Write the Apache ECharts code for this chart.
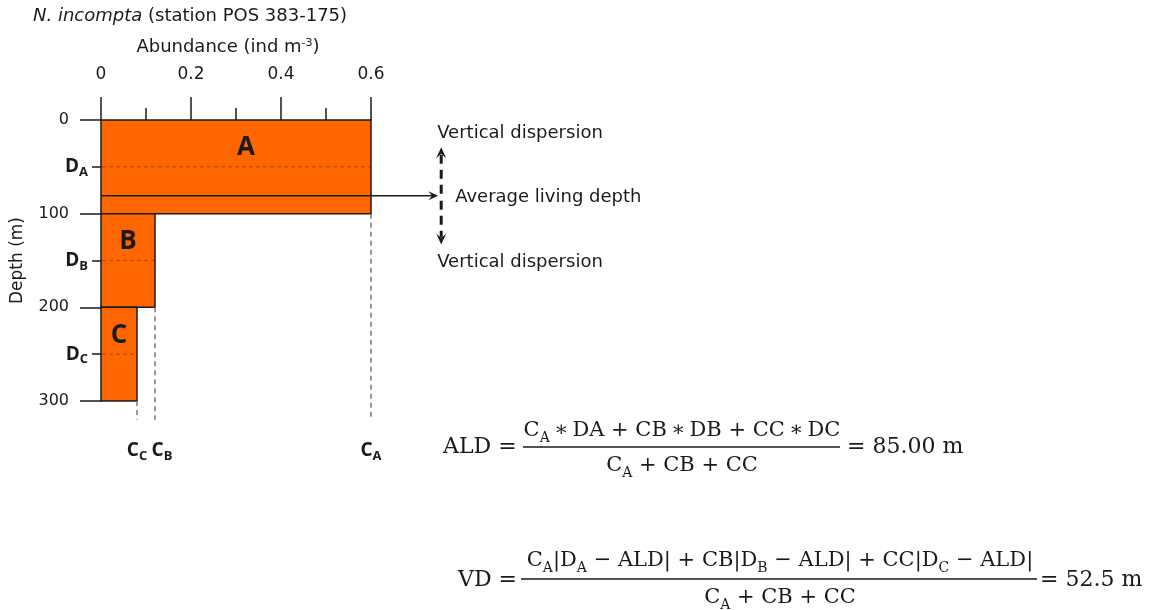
<!DOCTYPE html>
<html>
<head>
<meta charset="utf-8">
<script src="https://cdn.jsdelivr.net/npm/echarts@6/dist/echarts.min.js"></script>
<style>
  html, body { margin: 0; padding: 0; background: #fff; }
  #chart { width: 1153px; height: 610px; }
</style>
</head>
<body>
<div id="chart"></div>
<script>
// depth layers of the plankton tow (m) and abundance per layer (ind m-3)
const layerNames = ['A', 'B', 'C'];
const layerTop = [0, 100, 200];
const layerBottom = [100, 200, 300];
const layerMid = [50, 150, 250];
const abundance = [0.6, 0.12, 0.08];
// average living depth and vertical dispersion as drawn (m)
const aldDepth = 81;
const vdDepth = 52;
const arrowX = 0.756;
const guideDepth = 320;

const chart = echarts.init(document.getElementById('chart'));

const sans = 'DejaVu Sans';
const serif = 'DejaVu Serif';
const ink = '#1a1a1a';

const layerData = layerNames.map((n, i) => [layerTop[i], layerBottom[i], abundance[i], layerMid[i]]);

function subLabel(x, y, main, sub, dx) {
  return {
    type: 'text',
    style: {
      text: '{b|' + main + '}{s|' + sub + '}', x: x + dx, y: y,
      align: 'center', verticalAlign: 'middle', rich: labelRich,
      font: 'bold 19px "Open Sans"', fill: ink
    }
  };
}

function renderLayer(params, api) {
  const i = params.dataIndex;
  const p0 = api.coord([0, api.value(0)]);
  const p1 = api.coord([api.value(2), api.value(1)]);
  const pm = api.coord([api.value(2), api.value(3)]);
  const pg = api.coord([api.value(2), guideDepth]);
  return {
    type: 'group',
    children: [
      {
        type: 'rect',
        shape: { x: p0[0], y: p0[1], width: p1[0] - p0[0], height: p1[1] - p0[1] },
        style: { fill: '#ff6600', stroke: ink, lineWidth: 1.5 }
      },
      {
        type: 'line',
        shape: { x1: p0[0] + 1, y1: pm[1], x2: p1[0] - 1, y2: pm[1] },
        style: { stroke: '#a8480c', lineWidth: 1, lineDash: [4, 3] }
      },
      {
        type: 'line',
        shape: { x1: p1[0], y1: p1[1], x2: p1[0], y2: pg[1] },
        style: { stroke: '#777', lineWidth: 1.5, lineDash: [5, 4] }
      },
      {
        type: 'text',
        style: {
          text: layerNames[i], x: (p0[0] + p1[0]) / 2 + (i === 0 ? 10 : 0), y: p0[1] + 28,
          align: 'center', verticalAlign: 'middle',
          font: 'bold 26px "Open Sans"', fill: ink
        }
      },
      subLabel(p1[0], pg[1] + 31, 'C', layerNames[i], i === 1 ? 7 : 0)
    ]
  };
}

function arrowHead(tip, dir, len, half) {
  // dir: unit vector the arrow points along
  const bx = tip[0] - dir[0] * len, by = tip[1] - dir[1] * len;
  return {
    type: 'polygon',
    shape: { points: [tip, [bx - dir[1] * half, by + dir[0] * half], [tip[0] - dir[0] * len * 0.6, tip[1] - dir[1] * len * 0.6], [bx + dir[1] * half, by - dir[0] * half]] },
    style: { fill: ink }
  };
}

function renderAld(params, api) {
  const mid = api.coord([api.value(0), api.value(1)]);
  const left = api.coord([0, api.value(1)]);
  const up = api.coord([api.value(0), api.value(1) - api.value(2)]);
  const down = api.coord([api.value(0), api.value(1) + api.value(2)]);
  const tipX = mid[0] - 3;
  const annot = (t, x, y) => ({
    type: 'text',
    style: { text: t, x: x, y: y, align: 'left', verticalAlign: 'middle', font: '18px "DejaVu Sans"', fill: ink }
  });
  return {
    type: 'group',
    children: [
      { type: 'line', shape: { x1: left[0], y1: left[1], x2: tipX - 5, y2: mid[1] }, style: { stroke: ink, lineWidth: 1.5 } },
      arrowHead([tipX, mid[1]], [1, 0], 10, 4.5),
      { type: 'line', shape: { x1: mid[0], y1: mid[1] - 2, x2: mid[0], y2: up[1] + 7 }, style: { stroke: ink, lineWidth: 3, lineDash: [9, 6] } },
      arrowHead([mid[0], up[1]], [0, -1], 11, 5),
      { type: 'line', shape: { x1: mid[0], y1: mid[1] + 5, x2: mid[0], y2: down[1] - 7 }, style: { stroke: ink, lineWidth: 3, lineDash: [9, 6] } },
      arrowHead([mid[0], down[1]], [0, 1], 11, 5),
      annot('Vertical dispersion', mid[0] - 4, up[1] - 14),
      annot('Average living depth', mid[0] + 14, mid[1] + 1),
      annot('Vertical dispersion', mid[0] - 4, down[1] + 18)
    ]
  };
}

const labelRich = {
  b: { fontSize: 19, fontWeight: 'bold', fontFamily: 'Open Sans', color: ink, lineHeight: 24 },
  s: { fontSize: 13, fontWeight: 'bold', fontFamily: 'Open Sans', color: ink, lineHeight: 14, verticalAlign: 'bottom' }
};

// formula text helpers
const fRich = {
  n: { fontSize: 22, fontFamily: serif, color: ink, lineHeight: 28 },
  f: { fontSize: 21, fontFamily: serif, color: ink, lineHeight: 28 },
  s: { fontSize: 14, fontFamily: serif, color: ink, lineHeight: 14, verticalAlign: 'bottom' }
};
function ftext(text, x, y, align) {
  return {
    type: 'text',
    style: { text: text, x: x, y: y, align: align, verticalAlign: 'middle', rich: fRich, font: '22px "DejaVu Serif"', fill: ink }
  };
}
function fline(x1, x2, y) {
  return { type: 'line', shape: { x1: x1, y1: y, x2: x2, y2: y }, style: { stroke: ink, lineWidth: 1.5 } };
}
const ts = '\u2009';

const option = {
  animation: false,
  title: {
    text: '{i|N. incompta} (station POS 383-175)',
    left: 28, top: 2,
    textStyle: {
      fontSize: 18, fontWeight: 'normal', fontFamily: sans, color: ink,
      rich: { i: { fontSize: 18, fontStyle: 'italic', fontFamily: sans, color: ink } }
    }
  },
  grid: { left: 101, top: 120, width: 270, height: 281 },
  xAxis: {
    type: 'value', position: 'top', min: 0, max: 0.6, interval: 0.2,
    name: 'Abundance (ind m{sup|-3})', nameLocation: 'middle', nameGap: 64,
    nameTextStyle: {
      fontSize: 18, fontFamily: sans, color: ink, padding: [0, 16, 0, 0],
      rich: { sup: { fontSize: 11, fontFamily: sans, color: ink, verticalAlign: 'top', lineHeight: 10 } }
    },
    axisLine: { show: false },
    axisTick: { length: 23, lineStyle: { color: ink, width: 1.5 } },
    minorTick: { show: true, splitNumber: 2, length: 12, lineStyle: { color: ink, width: 1.5 } },
    axisLabel: { margin: 37, fontSize: 17, fontFamily: sans, color: ink },
    splitLine: { show: false }, minorSplitLine: { show: false }
  },
  yAxis: [
    {
      type: 'value', inverse: true, min: 0, max: 300, interval: 100,
      name: 'Depth (m)', nameLocation: 'middle', nameGap: 75,
      nameTextStyle: { fontSize: 17, fontFamily: sans, color: ink },
      axisLine: { show: false },
      axisTick: { length: 21, lineStyle: { color: ink, width: 1.5 } },
      axisLabel: { margin: 32, fontSize: 16, fontFamily: sans, color: ink },
      splitLine: { show: false }
    },
    {
      type: 'value', inverse: true, min: 0, max: 300, position: 'left',
      axisLine: { show: false }, splitLine: { show: false },
      axisTick: { customValues: layerMid, length: 9, lineStyle: { color: ink, width: 1.5 } },
      axisLabel: {
        customValues: layerMid, margin: 13, hideOverlap: false,
        formatter: v => '{b|D}{s|' + layerNames[layerMid.indexOf(v)] + '}',
        rich: labelRich
      }
    }
  ],
  series: [
    {
      type: 'custom', name: 'layers', renderItem: renderLayer, data: layerData,
      encode: { x: 2, y: [0, 1] }, z: 2, silent: true, clip: false
    },
    {
      type: 'custom', name: 'ald', renderItem: renderAld, data: [[arrowX, aldDepth, vdDepth]],
      encode: { x: 0, y: 1 }, z: 5, silent: true, clip: false
    }
  ],
  graphic: [
    ftext('{n|ALD =}', 443, 447, 'left'),
    ftext('{f|C}{s|A}{f|' + ts + '∗' + ts + 'DA + CB' + ts + '∗' + ts + 'DB + CC' + ts + '∗' + ts + 'DC}', 682, 431, 'center'),
    fline(523, 840, 447),
    ftext('{f|C}{s|A}{f| + CB + CC}', 682, 466, 'center'),
    ftext('{n|= 85.00 m}', 847, 447, 'left'),
    ftext('{n|VD =}', 458, 580, 'left'),
    ftext('{f|C}{s|A}{f||D}{s|A}{f| − ALD| + CB|D}{s|B}{f| − ALD| + CC|D}{s|C}{f| − ALD|}', 780, 561, 'center'),
    fline(521, 1037, 579),
    ftext('{f|C}{s|A}{f| + CB + CC}', 780, 598, 'center'),
    ftext('{n|= 52.5 m}', 1040, 580, 'left')
  ]
};

chart.setOption(option);
</script>
</body>
</html>
